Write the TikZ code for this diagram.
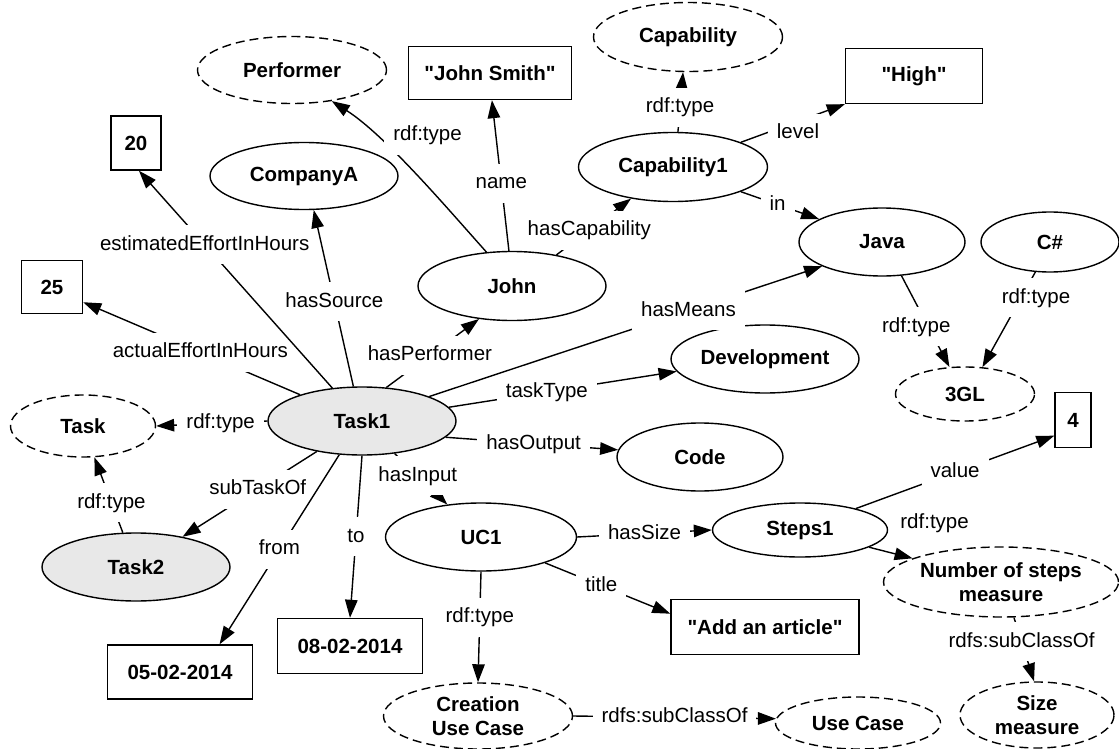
\documentclass[tikz,border=0pt]{standalone}
\usepackage{fontspec}
\setmainfont{Liberation Sans}
\usetikzlibrary{arrows.meta,shapes.geometric}

\begin{document}
\begin{tikzpicture}[x=1pt,y=1pt,
  every node/.style={font=\fontsize{20.5}{24}\selectfont},
  wh/.style 2 args={minimum width=#1pt,minimum height=#2pt},
  res/.style={ellipse,draw,line width=1.4pt,inner sep=0pt,align=center,
    font=\fontsize{20.5}{24}\selectfont\bfseries},
  cls/.style={res,dash pattern=on 9pt off 5pt},
  task/.style={res,fill=black!9},
  lit/.style={rectangle,draw,line width=1.4pt,inner sep=0pt,
    font=\fontsize{20.5}{24}\selectfont\bfseries},
  lbl/.style={fill=white,inner xsep=9pt,inner ysep=10pt,text height=15pt,text depth=4pt},
  rel/.style={line width=1.4pt,-{Triangle[length=18pt,width=12.5pt]}}]
\useasboundingbox (0,0) rectangle (1119,-749);

\node[cls,wh={189}{67}] (Performer) at (292,-70) {Performer};
\node[lit,wh={163}{53}] (Smith) at (490,-73) {\textquotedbl John Smith\textquotedbl};
\node[cls,wh={189}{69}] (Capability) at (688,-37) {Capability};
\node[lit,wh={137}{55}] (High) at (914,-76) {\textquotedbl High\textquotedbl};
\node[lit,wh={50}{54}] (twenty) at (136,-143) {20};
\node[res,wh={188}{67}] (CompanyA) at (304,-176) {CompanyA};
\node[res,wh={189}{69}] (Cap1) at (673,-167) {Capability1};
\node[res,wh={188}{69}] (John) at (512,-286) {John};
\node[res,wh={166}{68}] (Java) at (882,-242) {Java};
\node[res,wh={138}{60}] (CSharp) at (1050,-242) {C\#};
\node[lit,wh={61}{53}] (twentyfive) at (52,-287) {25};
\node[res,wh={188}{68}] (Development) at (765,-359) {Development};
\node[cls,wh={139}{54}] (ThreeGL) at (965,-394) {3GL};
\node[cls,wh={145}{62}] (Task) at (83,-426) {Task};
\node[task,wh={188}{68}] (Task1) at (362,-421) {Task1};
\node[res,wh={166}{68}] (Code) at (700,-457) {Code};
\node[lit,wh={36}{55}] (four) at (1073,-420) {4};
\node[task,wh={188}{68}] (Task2) at (136,-567) {Task2};
\node[res,wh={191}{68}] (UC1) at (481,-537) {UC1};
\node[res,wh={175}{54}] (Steps1) at (800,-530) {Steps1};
\node[cls,wh={235}{70}] (NoSM) at (1001,-582) {Number of steps\\measure};
\node[lit,wh={188}{55}] (Article) at (765,-627) {\textquotedbl Add an article\textquotedbl};
\node[lit,wh={145}{54}] (d05) at (180,-672) {05-02-2014};
\node[lit,wh={145}{55}] (d08) at (350,-646) {08-02-2014};
\node[cls,wh={189}{66}] (CUC) at (478,-716) {Creation\\Use Case};
\node[cls,wh={165}{52}] (UseCase) at (858,-723) {Use Case};
\node[cls,wh={154}{66}] (Size) at (1037,-715) {Size\\measure};

\draw[rel] (John.127) .. controls (447,-208) and (385,-135) .. (Performer.-38)
  node[lbl,pos=0.65,xshift=38pt,yshift=13pt] {rdf:type};
\draw[rel] (John.95) -- node[lbl,pos=0.45] {name} (Smith.-86);
\draw[rel] (John.35) -- node[lbl,pos=0.44] {hasCapability} (Cap1.-143);
\draw[rel] (Cap1.82) -- node[lbl,pos=0.41] {rdf:type} (Capability.-98);
\draw[rel] (Cap1.20) -- node[lbl,pos=0.55,yshift=-12pt] {level} (High.south west);
\draw[rel] (Cap1.-20) -- node[lbl,pos=0.47] {in} (Java.160);

\draw[rel] (Task1.157) -- node[lbl,pos=0.46] {actualEffortInHours} (twentyfive.-26);
\draw[rel] (Task1.132) -- node[lbl,pos=0.66] {estimatedEffortInHours} (twenty.-84);
\draw[rel] (Task1.104) -- node[lbl,pos=0.48] {hasSource} (CompanyA.-74);
\draw[rel] (Task1.54) -- node[lbl,pos=0.47] {hasPerformer} (John.-135);
\draw[rel] (Task1.9) -- node[lbl,pos=0.43] {taskType} (Development.-172);
\draw[rel] (Task1.20) -- node[lbl,pos=0.66] {hasMeans} (Java.-158);
\draw[rel] (Task1.west) -- node[lbl,pos=0.42] {rdf:type} (Task.east);
\draw[rel] (Task1.-11) -- node[lbl,pos=0.51] {hasOutput} (Code.175);
\draw[rel] (Task1.-45) -- node[lbl,pos=0.44] {hasInput} (UC1.136);
\draw[rel] (Task1.-146) -- node[lbl,pos=0.44] {subTaskOf} (Task2.33);
\draw[rel] (Task2.111) -- node[lbl,pos=0.4] {rdf:type} (Task.-70);
\draw[rel] (Task1.-124) -- node[lbl,pos=0.5] {from} (d05.35);
\draw[rel] (Task1.south) -- node[lbl,pos=0.5] {to} (d08.north);

\draw[rel] (UC1.east) -- node[lbl,pos=0.5] {hasSize} (Steps1.west);
\draw[rel] (UC1.-22) -- node[lbl,pos=0.45] {title} (Article.172);
\draw[rel] (UC1.south) -- node[lbl,pos=0.41] {rdf:type} (CUC.north);
\draw[rel] (CUC.east) -- node[lbl,pos=0.5] {rdfs:subClassOf} (UseCase.177);
\draw[rel] (Steps1.21) -- node[lbl,pos=0.5] {value} (four.-140);
\draw[rel] (Steps1.-14) -- (NoSM.165) node[lbl,pos=1,xshift=22pt,yshift=35pt] {rdf:type};
\draw[rel] (NoSM.-70) -- node[lbl,pos=0.38] {rdfs:subClassOf} (Size.95);
\draw[rel] (Java.-60) -- node[lbl,pos=0.56,xshift=-12pt] {rdf:type} (ThreeGL.120);
\draw[rel] (CSharp.-116) -- node[lbl,pos=0.27,xshift=15pt] {rdf:type} (ThreeGL.57);
\end{tikzpicture}
\end{document}
